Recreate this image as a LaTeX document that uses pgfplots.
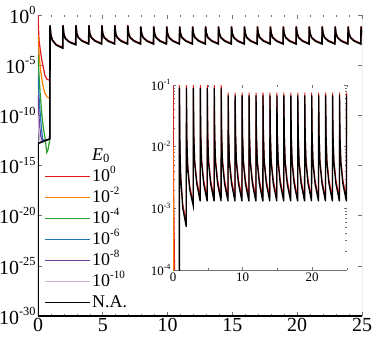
\documentclass[border=0pt]{standalone}
\usepackage{fontspec}
\setmainfont{Liberation Serif}
\usepackage{pgfplots}
\usepackage{pgfplotstable}
\pgfplotsset{compat=1.18}
\definecolor{cRed}{RGB}{227,26,28}
\definecolor{cOrange}{RGB}{255,127,0}
\definecolor{cGreen}{RGB}{44,160,44}
\definecolor{cBlue}{RGB}{31,119,180}
\definecolor{cPurple}{RGB}{106,61,154}
\definecolor{cLav}{RGB}{202,178,214}
\newcommand{\pw}[1]{10\raisebox{0.42em}{\scalebox{0.62}{#1}}}

% transients (x y)
\pgfplotstableread[row sep=\\]{x y\\
0 1\\ 0.03 1e-1\\ 0.08 3e-3\\ 0.2 2e-4\\ 0.3 3e-5\\ 0.42 5e-6\\ 0.55 8e-7\\ 0.7 4e-7\\ 0.91 3e-7\\
0.93 0.1\\ 0.99 1.15e-2\\ 1.11 3.5e-3\\ 1.41 1.15e-3\\ 1.91 6e-4\\
1.93 0.1\\ 1.99 1.5e-2\\ 2.11 5.2e-3\\ 2.41 2.3e-3\\ 2.91 1.25e-3\\
2.93 0.1\\ 2.99 1.7e-2\\ 3.11 6.3e-3\\ 3.41 2.9e-3\\ 3.91 1.5e-3\\
3.93 0.1\\ 3.99 1.7e-2\\ 4.11 6.3e-3\\ 4.41 2.9e-3\\ 4.91 1.5e-3\\
4.93 0.1\\ 4.99 1.7e-2\\ 5.11 6.3e-3\\ 5.41 2.9e-3\\ 5.91 1.5e-3\\
5.93 0.1\\ 5.99 1.7e-2\\ 6.11 6.3e-3\\ 6.41 2.9e-3\\ 6.91 1.5e-3\\
6.93 0.1\\ 6.99 1.7e-2\\ 7.11 6.3e-3\\ 7.41 2.9e-3\\ 7.91 1.5e-3\\
7.93 0.075\\ 7.99 1.7e-2\\ 8.11 6.3e-3\\ 8.41 2.9e-3\\ 8.91 1.5e-3\\
8.93 0.075\\ 8.99 1.7e-2\\ 9.11 6.3e-3\\ 9.41 2.9e-3\\ 9.91 1.5e-3\\
9.93 0.075\\ 9.99 1.7e-2\\ 10.11 6.3e-3\\ 10.41 2.9e-3\\ 10.91 1.5e-3\\
10.93 0.075\\ 10.99 1.7e-2\\ 11.11 6.3e-3\\ 11.41 2.9e-3\\ 11.91 1.5e-3\\
11.93 0.075\\ 11.99 1.7e-2\\ 12.11 6.3e-3\\ 12.41 2.9e-3\\ 12.91 1.5e-3\\
12.93 0.075\\ 12.99 1.7e-2\\ 13.11 6.3e-3\\ 13.41 2.9e-3\\ 13.91 1.5e-3\\
13.93 0.075\\ 13.99 1.7e-2\\ 14.11 6.3e-3\\ 14.41 2.9e-3\\ 14.91 1.5e-3\\
14.93 0.075\\ 14.99 1.7e-2\\ 15.11 6.3e-3\\ 15.41 2.9e-3\\ 15.91 1.5e-3\\
15.93 0.075\\ 15.99 1.7e-2\\ 16.11 6.3e-3\\ 16.41 2.9e-3\\ 16.91 1.5e-3\\
16.93 0.075\\ 16.99 1.7e-2\\ 17.11 6.3e-3\\ 17.41 2.9e-3\\ 17.91 1.5e-3\\
17.93 0.075\\ 17.99 1.7e-2\\ 18.11 6.3e-3\\ 18.41 2.9e-3\\ 18.91 1.5e-3\\
18.93 0.075\\ 18.99 1.7e-2\\ 19.11 6.3e-3\\ 19.41 2.9e-3\\ 19.91 1.5e-3\\
19.93 0.075\\ 19.99 1.7e-2\\ 20.11 6.3e-3\\ 20.41 2.9e-3\\ 20.91 1.5e-3\\
20.93 0.075\\ 20.99 1.7e-2\\ 21.11 6.3e-3\\ 21.41 2.9e-3\\ 21.91 1.5e-3\\
21.93 0.075\\ 21.99 1.7e-2\\ 22.11 6.3e-3\\ 22.41 2.9e-3\\ 22.91 1.5e-3\\
22.93 0.075\\ 22.99 1.7e-2\\ 23.11 6.3e-3\\ 23.41 2.9e-3\\ 23.91 1.5e-3\\
23.93 0.075\\ 23.99 1.7e-2\\ 24.11 6.3e-3\\ 24.41 2.9e-3\\ 24.91 1.5e-3\\
24.93 0.075\\ 24.99 1.7e-2\\ 25 1.5e-2\\
}\redtab

\pgfplotstableread[row sep=\\]{x y\\
0 1e-30\\ 0 1.6e-13\\ 0.3 2.2e-13\\ 0.6 3.2e-13\\ 0.91 4.5e-13\\
0.93 0.09\\ 0.99 1.0e-2\\ 1.11 3.0e-3\\ 1.41 1.0e-3\\ 1.91 5e-4\\
1.93 0.09\\ 1.99 1.3e-2\\ 2.11 4.5e-3\\ 2.41 2.0e-3\\ 2.91 1.1e-3\\
2.93 0.09\\ 2.99 1.5e-2\\ 3.11 5.5e-3\\ 3.41 2.5e-3\\ 3.91 1.3e-3\\
3.93 0.09\\ 3.99 1.5e-2\\ 4.11 5.5e-3\\ 4.41 2.5e-3\\ 4.91 1.3e-3\\
4.93 0.09\\ 4.99 1.5e-2\\ 5.11 5.5e-3\\ 5.41 2.5e-3\\ 5.91 1.3e-3\\
5.93 0.09\\ 5.99 1.5e-2\\ 6.11 5.5e-3\\ 6.41 2.5e-3\\ 6.91 1.3e-3\\
6.93 0.088\\ 6.99 1.5e-2\\ 7.11 5.5e-3\\ 7.41 2.5e-3\\ 7.91 1.3e-3\\
7.93 0.068\\ 7.99 1.5e-2\\ 8.11 5.5e-3\\ 8.41 2.5e-3\\ 8.91 1.3e-3\\
8.93 0.068\\ 8.99 1.5e-2\\ 9.11 5.5e-3\\ 9.41 2.5e-3\\ 9.91 1.3e-3\\
9.93 0.068\\ 9.99 1.5e-2\\ 10.11 5.5e-3\\ 10.41 2.5e-3\\ 10.91 1.3e-3\\
10.93 0.068\\ 10.99 1.5e-2\\ 11.11 5.5e-3\\ 11.41 2.5e-3\\ 11.91 1.3e-3\\
11.93 0.068\\ 11.99 1.5e-2\\ 12.11 5.5e-3\\ 12.41 2.5e-3\\ 12.91 1.3e-3\\
12.93 0.068\\ 12.99 1.5e-2\\ 13.11 5.5e-3\\ 13.41 2.5e-3\\ 13.91 1.3e-3\\
13.93 0.068\\ 13.99 1.5e-2\\ 14.11 5.5e-3\\ 14.41 2.5e-3\\ 14.91 1.3e-3\\
14.93 0.068\\ 14.99 1.5e-2\\ 15.11 5.5e-3\\ 15.41 2.5e-3\\ 15.91 1.3e-3\\
15.93 0.068\\ 15.99 1.5e-2\\ 16.11 5.5e-3\\ 16.41 2.5e-3\\ 16.91 1.3e-3\\
16.93 0.068\\ 16.99 1.5e-2\\ 17.11 5.5e-3\\ 17.41 2.5e-3\\ 17.91 1.3e-3\\
17.93 0.068\\ 17.99 1.5e-2\\ 18.11 5.5e-3\\ 18.41 2.5e-3\\ 18.91 1.3e-3\\
18.93 0.068\\ 18.99 1.5e-2\\ 19.11 5.5e-3\\ 19.41 2.5e-3\\ 19.91 1.3e-3\\
19.93 0.068\\ 19.99 1.5e-2\\ 20.11 5.5e-3\\ 20.41 2.5e-3\\ 20.91 1.3e-3\\
20.93 0.068\\ 20.99 1.5e-2\\ 21.11 5.5e-3\\ 21.41 2.5e-3\\ 21.91 1.3e-3\\
21.93 0.068\\ 21.99 1.5e-2\\ 22.11 5.5e-3\\ 22.41 2.5e-3\\ 22.91 1.3e-3\\
22.93 0.068\\ 22.99 1.5e-2\\ 23.11 5.5e-3\\ 23.41 2.5e-3\\ 23.91 1.3e-3\\
23.93 0.068\\ 23.99 1.5e-2\\ 24.11 5.5e-3\\ 24.41 2.5e-3\\ 24.91 1.3e-3\\
24.93 0.068\\ 24.99 1.5e-2\\ 25 1.3e-2\\
}\blacktab

\pgfplotstableread[row sep=\\]{x y\\
0 1e-2\\ 0.04 1e-3\\ 0.12 3e-5\\ 0.22 2e-6\\ 0.35 1.5e-7\\ 0.5 2e-8\\ 0.7 7e-9\\ 0.91 5e-9\\ 0.93 0.09\\
}\orangetab
\pgfplotstableread[row sep=\\]{x y\\
0 1e-4\\ 0.06 3e-6\\ 0.15 3e-8\\ 0.28 2e-10\\ 0.42 5e-12\\ 0.55 5e-13\\ 0.68 2e-14\\ 0.78 4e-14\\ 0.91 4e-13\\ 0.93 0.09\\
}\greentab
\pgfplotstableread[row sep=\\]{x y\\
0 1e-6\\ 0.06 2e-8\\ 0.15 3e-10\\ 0.25 1e-11\\ 0.35 4e-13\\ 0.6 3e-13\\ 0.91 4.5e-13\\ 0.93 0.09\\
}\bluetab
\pgfplotstableread[row sep=\\]{x y\\
0 1e-8\\ 0.05 3e-10\\ 0.12 1e-11\\ 0.22 8e-13\\ 0.35 2.5e-13\\ 0.91 4.5e-13\\ 0.93 0.09\\
}\purpletab
\pgfplotstableread[row sep=\\]{x y\\
0 1e-10\\ 0.05 5e-12\\ 0.12 5e-13\\ 0.2 2e-13\\ 0.91 4.5e-13\\ 0.93 0.09\\
}\lavtab

\begin{document}
\begin{tikzpicture}
\begin{axis}[
  name=main,
  at={(0,0)}, anchor=south west,
  scale only axis,
  width=324bp, height=301bp,
  ymode=log,
  xmin=0, xmax=25, ymin=1e-30, ymax=1,
  xtick={0,5,10,15,20,25},
  xticklabels={0,5,10,15,20,25},
  minor x tick num=4,
  ytick={1e-30,1e-25,1e-20,1e-15,1e-10,1e-5,1},
  yticklabels={\pw{-30},\pw{-25},\pw{-20},\pw{-15},\pw{-10},\pw{-5},\pw{0}},
  minor ytick={},
  tick align=inside,
  major tick length=4bp, minor tick length=2.5bp,
  tick style={black!55, line width=0.6bp},
  axis line style={draw=none},
  tick label style={font=\fontsize{20}{20}\selectfont},
  yticklabel style={xshift=1bp},
  xticklabel style={yshift=1bp},
  legend style={at={(rel axis cs:0.02,0.01)}, anchor=south west, draw=none, fill=none,
    inner sep=0pt, font=\fontsize{18}{18}\selectfont,
    nodes={text height=13bp, text depth=3bp, inner ysep=2.5bp, inner xsep=1bp},
    /tikz/every even column/.append style={column sep=0bp}},
  legend cell align=left,
  legend image code/.code={\draw[#1, line width=1.5bp] (0bp,0bp) -- (45bp,0bp);},
]
\draw[black!55, line width=0.8bp] (rel axis cs:0,0) -- (rel axis cs:0,1);
\draw[black!55, line width=0.8bp] (rel axis cs:1,0) -- (rel axis cs:1,1);
\draw[black, line width=1.2bp] (rel axis cs:0,0) -- (rel axis cs:1,0);
\addlegendimage{empty legend}
\addlegendentry{\textit{E}\textsubscript{0}}
\addplot[cRed, line width=1.2bp] table[x=x,y=y] {\redtab};
\addlegendentry{\pw{0}}
\addplot[cOrange, line width=1.2bp] table[x=x,y=y] {\orangetab};
\addlegendentry{\pw{-2}}
\addplot[cGreen, line width=1.2bp] table[x=x,y=y] {\greentab};
\addlegendentry{\pw{-4}}
\addplot[cBlue, line width=1.2bp] table[x=x,y=y] {\bluetab};
\addlegendentry{\pw{-6}}
\addplot[cPurple, line width=1.2bp] table[x=x,y=y] {\purpletab};
\addlegendentry{\pw{-8}}
\addplot[cLav, line width=1.2bp] table[x=x,y=y] {\lavtab};
\addlegendentry{\pw{-10}}
\addplot[black, line width=1.6bp] table[x=x,y=y] {\blacktab};
\addlegendentry{N.A.}
\end{axis}

\begin{axis}[
  at={(135bp,46bp)}, anchor=south west,
  scale only axis,
  width=174bp, height=185bp,
  ymode=log,
  xmin=0, xmax=25, ymin=1e-4, ymax=1e-1,
  xtick={0,10,20},
  xticklabels={0,10,20},
  minor xtick={5,15,25},
  ytick={1e-4,1e-3,1e-2,1e-1},
  yticklabels={\pw{-4},\pw{-3},\pw{-2},\pw{-1}},
  tick align=inside,
  major tick length=3bp, minor tick length=2bp,
  tick style={black!55, line width=0.5bp},
  axis line style={draw=none},
  tick label style={font=\fontsize{13}{13}\selectfont},
  yticklabel style={xshift=1bp},
  xticklabel style={yshift=1bp},
]
\draw[black!55, line width=0.7bp] (rel axis cs:0,0) -- (rel axis cs:0,1);
\draw[black!55, line width=0.7bp] (rel axis cs:0,0) -- (rel axis cs:1,0);
\addplot[cRed, line width=1bp] table[x=x,y=y] {\redtab};
\addplot[cOrange, line width=1bp] table[x=x,y=y] {\orangetab};
\addplot[cGreen, line width=1bp] table[x=x,y=y] {\greentab};
\addplot[cBlue, line width=1bp] table[x=x,y=y] {\bluetab};
\addplot[cPurple, line width=1bp] table[x=x,y=y] {\purpletab};
\addplot[cLav, line width=1bp] table[x=x,y=y] {\lavtab};
\addplot[black, line width=1.3bp] table[x=x,y=y] {\blacktab};
\end{axis}
\pgfresetboundingbox
\path[use as bounding box] (-38bp,-22bp) rectangle (342bp,316bp);
\end{tikzpicture}
\end{document}
